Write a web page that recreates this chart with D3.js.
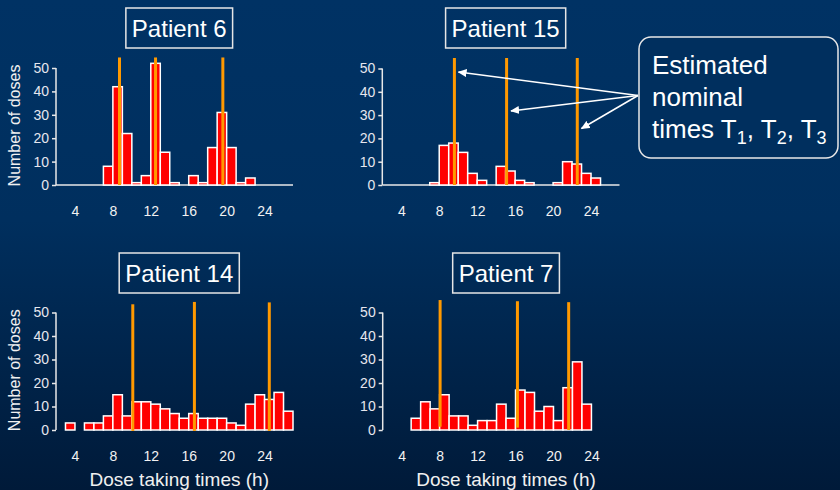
<!DOCTYPE html>
<html>
<head>
<meta charset="utf-8">
<script src="https://cdn.jsdelivr.net/npm/d3@7"></script>
<style>
  html, body { margin: 0; padding: 0; background: #002b57; }
  svg { display: block; }
  text { font-family: "Liberation Sans", Arial, sans-serif; }
</style>
</head>
<body>
<svg id="chart" width="840" height="490"></svg>
<script>
// ---------- DATA ----------
const patientNames = ["Patient 6", "Patient 15", "Patient 14", "Patient 7"];

// hourly bins: first bin start hour + counts per 1-hour bin
const p6Start = 3;
const p6Counts = [0, 0, 0, 0, 8, 42, 22, 1, 4, 52, 14, 1, 0, 4, 1, 16, 31, 16, 1, 3, 0, 0, 0, 0];
const p15Start = 7;
const p15Counts = [1, 17, 18, 14, 5, 2, 0, 8, 6, 2, 1, 0, 0, 1, 10, 9, 5, 3];
const p14Start = 3;
const p14Counts = [3, 0, 3, 3, 6, 15, 6, 12, 12, 11, 9, 7, 5, 7, 5, 5, 5, 3, 2, 11, 15, 13, 16, 8];
const p7Start = 5;
const p7Counts = [5, 12, 9, 15, 6, 6, 2, 4, 4, 11, 5, 17, 16, 8, 10, 4, 18, 29, 11];

// estimated nominal times T1, T2, T3 (h)
const p6Times = [8.7, 12.5, 19.6];
const p15Times = [9.6, 15.1, 22.55];
const p14Times = [10.1, 16.6, 24.5];
const p7Times = [8.05, 16.2, 21.6];

const xTicks = [4, 8, 12, 16, 20, 24];
const yTicks = [0, 10, 20, 30, 40, 50];
const xDomain = [2, 27];
const yDomain = [0, 50];

const xTitle = "Dose taking times (h)";
const yTitle = "Number of doses";
const calloutLines = ["Estimated", "nominal"];

// ---------- DRAW ----------
const svg = d3.select("#chart");
const defs = svg.append("defs");
const grad = defs.append("linearGradient").attr("id", "bg").attr("x1", 0).attr("y1", 0).attr("x2", 0).attr("y2", 1);
grad.append("stop").attr("offset", "0%").attr("stop-color", "#003264");
grad.append("stop").attr("offset", "45%").attr("stop-color", "#002f5e");
grad.append("stop").attr("offset", "100%").attr("stop-color", "#001a39");
svg.append("rect").attr("width", 840).attr("height", 490).attr("fill", "url(#bg)");

defs.append("marker").attr("id", "arrow").attr("viewBox", "0 0 10 10")
  .attr("refX", 9).attr("refY", 5).attr("markerWidth", 9).attr("markerHeight", 9)
  .attr("markerUnits", "userSpaceOnUse").attr("orient", "auto")
  .append("path").attr("d", "M0,0.5 L10,5 L0,9.5 Z").attr("fill", "#ffffff");

const panels = [
  { name: patientNames[0], start: p6Start, counts: p6Counts, times: p6Times, x: [56, 293], y: [185, 68], baseline: true, ylabel: true, xlabel: false, lineTops: [54.5, 54.5, 54.5] },
  { name: patientNames[1], start: p15Start, counts: p15Counts, times: p15Times, x: [382.3, 619.5], y: [185, 68.5], baseline: true, ylabel: false, xlabel: false, lineTops: [54.5, 54.5, 54.5] },
  { name: patientNames[2], start: p14Start, counts: p14Counts, times: p14Times, x: [56, 293], y: [430, 312.5], baseline: false, ylabel: true, xlabel: true, lineTops: [53.5, 54.5, 54.3] },
  { name: patientNames[3], start: p7Start, counts: p7Counts, times: p7Times, x: [382.7, 619.9], y: [430, 312.5], baseline: false, ylabel: false, xlabel: true, lineTops: [55.3, 54.8, 54.4] }
];

const lineBottoms = [[0, 0, 0], [0, 0, 0], [-0.4, -0.4, -0.4], [1.4, 1.0, 0]];

panels.forEach((p, pi) => {
  const xs = d3.scaleLinear().domain(xDomain).range(p.x);
  const ys = d3.scaleLinear().domain(yDomain).range(p.y);
  const g = svg.append("g");

  const bins = p.counts.map((c, i) => ({ h: p.start + i, c }));

  // baseline
  if (p.baseline) {
    g.append("line").attr("x1", xs(xDomain[0])).attr("x2", xs(xDomain[1]))
      .attr("y1", ys(0)).attr("y2", ys(0))
      .attr("stroke", "#e8e8e8").attr("stroke-width", 1.5);
  }

  // bars
  g.selectAll("rect.bar").data(bins.filter(d => d.c > 0)).join("rect")
    .attr("class", "bar")
    .attr("x", d => xs(d.h))
    .attr("width", d => xs(d.h + 1) - xs(d.h))
    .attr("y", d => ys(d.c))
    .attr("height", d => ys(0) - ys(d.c))
    .attr("fill", "#ff0000")
    .attr("stroke", "#ffffff").attr("stroke-width", 1.5);

  // nominal time lines
  g.selectAll("line.nom").data(p.times).join("line")
    .attr("class", "nom")
    .attr("x1", d => xs(d)).attr("x2", d => xs(d))
    .attr("y1", (d, i) => ys(p.lineTops[i])).attr("y2", (d, i) => ys(lineBottoms[pi][i]))
    .attr("stroke", "#ff9900").attr("stroke-width", 3);

  // y axis
  const yAxis = d3.axisLeft(ys).tickValues(yTicks).tickSize(4).tickPadding(3);
  const ya = g.append("g").attr("transform", `translate(${p.x[0]},0)`).call(yAxis);
  ya.select(".domain").attr("stroke", "#e8e8e8").attr("stroke-width", 1.5)
    .attr("d", `M0,${ys(0)}V${ys(50)}`);
  ya.selectAll(".tick line").attr("stroke", "#e8e8e8").attr("stroke-width", 1.5);
  ya.selectAll(".tick text").attr("fill", "#e6e6ee").attr("font-size", 14)
    .attr("font-family", "Liberation Sans, Arial, sans-serif");

  // x tick labels
  const xAxis = d3.axisBottom(xs).tickValues(xTicks).tickSize(0).tickPadding(20);
  const xa = g.append("g").attr("transform", `translate(0,${ys(0)})`).call(xAxis);
  xa.select(".domain").remove();
  xa.selectAll(".tick text").attr("fill", "#f2f2f2").attr("font-size", 14)
    .attr("font-family", "Liberation Sans, Arial, sans-serif")
    .attr("dy", 0).attr("y", 31);

  // title box
  const cx = xs(15);
  const ty = p.y[0] - 148;
  const titleBox = g.append("rect");
  const title = g.append("text").attr("x", cx).attr("y", ty)
    .attr("text-anchor", "middle").attr("fill", "#ffffff").attr("font-size", 24)
    .text(p.name);
  const w = title.node().getComputedTextLength() + 12;
  titleBox.attr("x", cx - w / 2).attr("y", ty - 29).attr("width", w).attr("height", 40)
    .attr("fill", "none").attr("stroke", "#e6e6e6").attr("stroke-width", 1.5);

  if (p.ylabel) {
    g.append("text").attr("transform", `translate(20,${(p.y[0] + p.y[1]) / 2 - 1}) rotate(-90)`)
      .attr("text-anchor", "middle").attr("fill", "#f0f0f0").attr("font-size", 16)
      .text(yTitle);
  }
  if (p.xlabel) {
    g.append("text").attr("x", cx).attr("y", 486).attr("text-anchor", "middle")
      .attr("fill", "#f0f0f0").attr("font-size", 19).text(xTitle);
  }

  if (pi === 1) {
    // arrows from callout to nominal lines
    const origin = [638, 95.5];
    const tips = [[458.5, 72], [511, 111], [581.5, 128.5]];
    svg.selectAll("line.arrow").data(tips).join("line").attr("class", "arrow")
      .attr("x1", origin[0]).attr("y1", origin[1])
      .attr("x2", d => d[0]).attr("y2", d => d[1])
      .attr("stroke", "#ffffff").attr("stroke-width", 1.5)
      .attr("marker-end", "url(#arrow)");
  }
});

// callout box
svg.append("rect").attr("x", 639).attr("y", 37).attr("width", 199).attr("height", 121)
  .attr("rx", 12).attr("ry", 12)
  .attr("fill", "#002f5e").attr("stroke", "#e8e8e8").attr("stroke-width", 1.5);
calloutLines.forEach((t, i) => {
  svg.append("text").attr("x", 652).attr("y", 74 + i * 31.5).attr("fill", "#ffffff")
    .attr("font-size", 26).text(t);
});
const t3 = svg.append("text").attr("x", 652).attr("y", 137.5).attr("fill", "#ffffff").attr("font-size", 26);
t3.append("tspan").text("times T");
t3.append("tspan").attr("font-size", 18).attr("dy", 6).text("1");
t3.append("tspan").attr("dy", -6).text(", T");
t3.append("tspan").attr("font-size", 18).attr("dy", 6).text("2");
t3.append("tspan").attr("dy", -6).text(", T");
t3.append("tspan").attr("font-size", 18).attr("dy", 6).text("3");
</script>
</body>
</html>
